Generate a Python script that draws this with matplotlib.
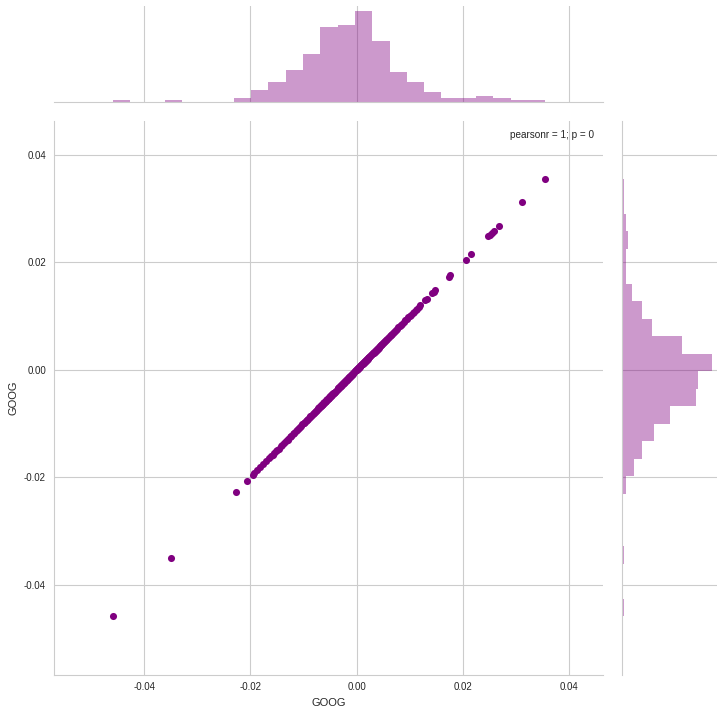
import numpy as np
import matplotlib
matplotlib.use("Agg")
import matplotlib.pyplot as plt

# Daily returns of GOOG (plotted against itself)
goog_returns = [
    -0.0459,
    -0.0350,
    -0.0227, -0.0207,
    -0.0196, -0.0193, -0.0187, -0.0181, -0.0176, -0.0170,
    -0.0165, -0.0161, -0.0158, -0.0156, -0.0152, -0.0149, -0.0147, -0.0143, -0.0140, -0.0136,
    -0.0133, -0.0130, -0.0129, -0.0126, -0.0124, -0.0123, -0.0120, -0.0118, -0.0117, -0.0114,
    -0.0112, -0.0110, -0.0108, -0.0106, -0.0104, -0.0102,
    -0.0100, -0.0099, -0.0097, -0.0096, -0.0094, -0.0093, -0.0091, -0.0090, -0.0088, -0.0087,
    -0.0086, -0.0084, -0.0083, -0.0081, -0.0080, -0.0079, -0.0077, -0.0076, -0.0075, -0.0073,
    -0.0072, -0.0071, -0.0070, -0.0069,
    -0.00680, -0.00671, -0.00665, -0.00658, -0.00649, -0.00641, -0.00633, -0.00626, -0.00618,
    -0.00609, -0.00601, -0.00594, -0.00586, -0.00577, -0.00569, -0.00561, -0.00553, -0.00546,
    -0.00538, -0.00529, -0.00521, -0.00514, -0.00505, -0.00497, -0.00489, -0.00482, -0.00474,
    -0.00465, -0.00458, -0.00449, -0.00441, -0.00433, -0.00425, -0.00417, -0.00409, -0.00393,
    -0.00375,
    -0.00355, -0.00349, -0.00342, -0.00335, -0.00327, -0.00318, -0.00311, -0.00302, -0.00295,
    -0.00287, -0.00279, -0.00271, -0.00263, -0.00256, -0.00247, -0.00239, -0.00232, -0.00224,
    -0.00215, -0.00208, -0.00199, -0.00191, -0.00184, -0.00176, -0.00167, -0.00159, -0.00152,
    -0.00143, -0.00136, -0.00127, -0.00119, -0.00111, -0.00104, -0.00095, -0.00087, -0.00078,
    -0.00063, -0.00045,
    -0.00030, -0.00022, -0.00015, -0.00008, 0.00000, 0.00006, 0.00013, 0.00019, 0.00026,
    0.00032, 0.00039, 0.00045, 0.00052, 0.00058, 0.00065, 0.00071, 0.00078, 0.00084,
    0.00091, 0.00097, 0.00104, 0.00110, 0.00117, 0.00123, 0.00130, 0.00136, 0.00143,
    0.00149, 0.00156, 0.00162, 0.00169, 0.00175, 0.00182, 0.00188, 0.00195, 0.00201,
    0.00208, 0.00214, 0.00221, 0.00227, 0.00234, 0.00241, 0.00253, 0.00266, 0.00279,
    0.00297, 0.00302, 0.00311, 0.00319, 0.00328, 0.00337, 0.00346, 0.00355, 0.00365,
    0.00374, 0.00384, 0.00393, 0.00403, 0.00413, 0.00422, 0.00432, 0.00442, 0.00452,
    0.00463, 0.00473, 0.00484, 0.00495, 0.00507, 0.00519, 0.00531, 0.00544, 0.00558,
    0.00572, 0.00588, 0.00604,
    0.00621, 0.00638, 0.00655, 0.00672, 0.00689, 0.00707, 0.00726, 0.00745, 0.00765,
    0.00786, 0.00808, 0.00831, 0.00856, 0.00883, 0.00917,
    0.00948, 0.00972, 0.00998, 0.01025, 0.01052, 0.01079, 0.01108, 0.01139, 0.01171, 0.01198,
    0.0129, 0.0132, 0.0142, 0.0145, 0.0148,
    0.0173, 0.0176,
    0.0205, 0.0216,
    0.0248, 0.0250, 0.0254,
    0.0259, 0.0268,
    0.0312,
    0.0355,
]
tick_values = [-0.04, -0.02, 0.00, 0.02, 0.04]
axis_limits = (-0.0569, 0.0463)
axis_label = "GOOG"
stat_text = "pearsonr = 1; p = 0"
n_bins = 25

plt.rcParams['font.family'] = ['Liberation Sans', 'DejaVu Sans']
plt.rcParams['axes.unicode_minus'] = False

W, H = 724, 712
fig = plt.figure(figsize=(W / 100, H / 100), dpi=100)
fig.patch.set_facecolor('white')

def px_axes(x0, y0, x1, y1):
    return fig.add_axes([x0 / W, 1 - y1 / H, (x1 - x0) / W, (y1 - y0) / H])

ax_joint = px_axes(54.3, 121.0, 602.7, 675.3)
ax_top = px_axes(54.3, 6.4, 602.7, 102.3)
ax_right = px_axes(622.3, 121.0, 716.7, 675.3)

grid_color = '#cccccc'
for ax in (ax_joint, ax_top, ax_right):
    ax.set_facecolor('white')
    ax.set_axisbelow(True)
    ax.grid(True, color=grid_color, linewidth=0.8)
    for s in ax.spines.values():
        s.set_color(grid_color)
        s.set_linewidth(0.8)
    ax.tick_params(length=0, labelsize=7, labelcolor='#262626')

data = np.array(goog_returns)

# Joint scatter
ax_joint.scatter(data, data, s=26, color='purple', linewidths=0, zorder=3)
ax_joint.set_xlim(*axis_limits)
ax_joint.set_ylim(*axis_limits)
ax_joint.set_xticks(tick_values)
ax_joint.set_yticks(tick_values)
ax_joint.tick_params(axis='x', pad=5)
ax_joint.tick_params(axis='y', pad=6)
ax_joint.spines['top'].set_visible(False)
ax_joint.spines['right'].set_visible(False)
ax_joint.set_xlabel(axis_label, fontsize=8, color='#262626', labelpad=4)
ax_joint.set_ylabel(axis_label, fontsize=8, color='#262626', labelpad=4)
ax_joint.text(0.9847, 0.9747, stat_text, transform=ax_joint.transAxes,
              ha='right', va='center', fontsize=7.2, color='#262626')

# Marginal histograms
bins = np.linspace(data.min(), data.max(), n_bins + 1)
ax_top.hist(data, bins=bins, color='purple', alpha=0.4, histtype='stepfilled', linewidth=0)
ax_right.hist(data, bins=bins, color='purple', alpha=0.4, histtype='stepfilled',
              linewidth=0, orientation='horizontal')

ax_top.set_xlim(*axis_limits)
ax_top.set_xticks(tick_values)
ax_top.yaxis.grid(False)
ax_top.tick_params(labelbottom=False, labelleft=False)
for s in ('top', 'right', 'left'):
    ax_top.spines[s].set_visible(False)

ax_right.set_ylim(*axis_limits)
ax_right.set_yticks(tick_values)
ax_right.xaxis.grid(False)
ax_right.tick_params(labelbottom=False, labelleft=False)
for s in ('top', 'right', 'bottom'):
    ax_right.spines[s].set_visible(False)

fig.savefig('out.png', dpi=100, facecolor='white')
